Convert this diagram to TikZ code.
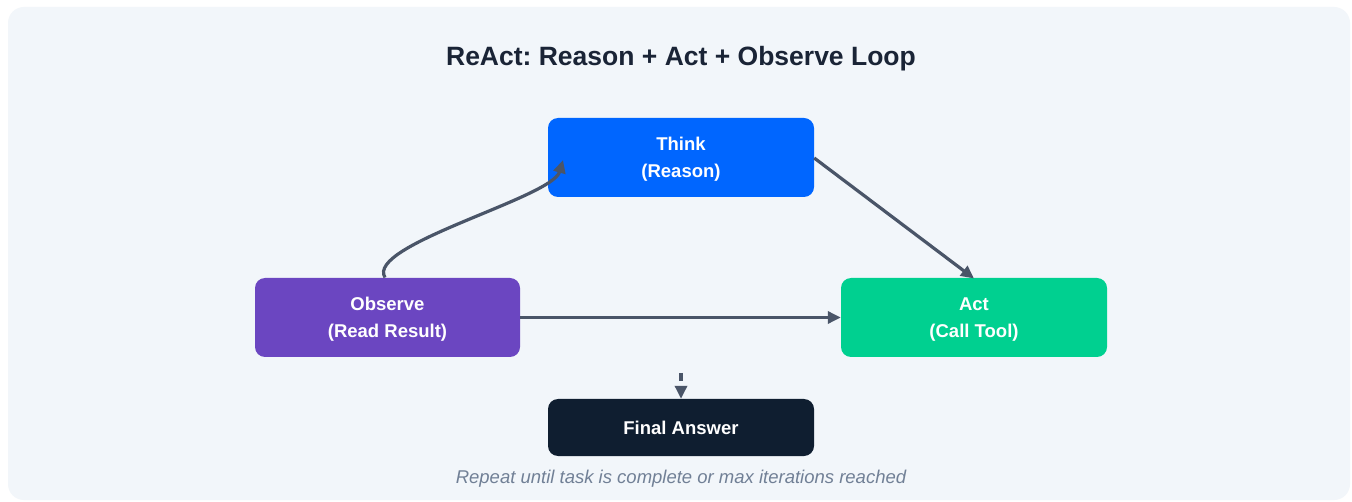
\documentclass[tikz,border=0pt]{standalone}
\usepackage{fontspec}
\setmainfont{Liberation Sans}
\usetikzlibrary{arrows.meta}
\frenchspacing
\definecolor{bgc}{HTML}{F2F6FA}
\definecolor{thinkc}{HTML}{0066FF}
\definecolor{obsc}{HTML}{6B46C1}
\definecolor{actc}{HTML}{00D090}
\definecolor{finc}{HTML}{0F1E30}
\definecolor{titlec}{HTML}{1A2436}
\definecolor{arrc}{HTML}{4A5568}
\definecolor{capc}{HTML}{718096}
\tikzset{
  box/.style={rounded corners=10pt, minimum width=266pt, inner sep=0pt, text=white, align=center,
    font=\fontsize{18.5}{27}\selectfont\bfseries, text depth=0pt},
  conn/.style={draw=arrc, line width=3.2pt, -{Triangle[length=13pt,width=12pt]}},
}
\begin{document}
\begin{tikzpicture}[x=1pt,y=-1pt]
\useasboundingbox (0,0) rectangle (1352,502);
\fill[white] (0,0) rectangle (1352,502);
\fill[bgc, rounded corners=16pt] (8,7) rectangle (1350,500);
\node[font=\fontsize{26.5}{30}\selectfont\bfseries, text=titlec] (title) at (681,59) {ReAct: Reason + Act + Observe Loop};
\node[box, fill=thinkc, minimum height=79pt] (think) at (681,157.5) {Think\\(Reason)};
\node[box, fill=obsc, minimum height=79pt, minimum width=265pt] (obs) at (387.5,317.5) {Observe\\(Read Result)};
\node[box, fill=actc, minimum height=79pt] (act) at (974,317.5) {Act\\(Call Tool)};
\node[box, fill=finc, minimum height=57pt] (final) at (681,427.5) {Final Answer};
\node[font=\fontsize{18.5}{22}\selectfont\itshape, text=capc] (cap) at (681,478.5) {Repeat until task is complete or max iterations reached};
\draw[conn] (think.east |- 0,158) -- (974,278.5);
\draw[conn] (obs.east) -- (act.west);
\draw[conn] (385,277.5) .. controls (365,245) and (552,198) .. (563,160);
\coordinate (dstart) at (681,373);
\draw[draw=arrc, line width=3.2pt, dash pattern=on 8pt off 6pt, -{Triangle[length=13pt,width=12pt]}] (dstart) -- (final.north);
\end{tikzpicture}
\end{document}
